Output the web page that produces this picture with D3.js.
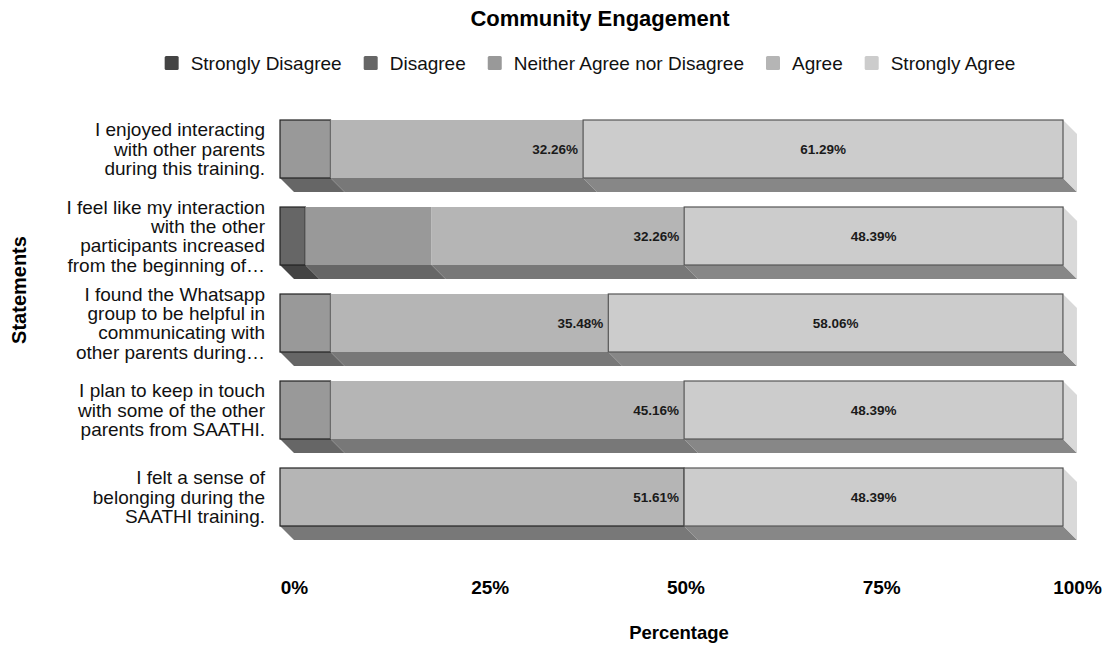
<!DOCTYPE html>
<html>
<head>
<meta charset="utf-8">
<script src="https://cdn.jsdelivr.net/npm/d3@7"></script>
<style>
  html, body { margin: 0; padding: 0; background: #fff; }
  svg { display: block; font-family: "Liberation Sans", Arial, sans-serif; }
</style>
</head>
<body>
<svg id="chart" width="1108" height="648"></svg>
<script>
// Survey statements (y categories), each split into multiple text lines
const statements = [
  ["I enjoyed interacting", "with other parents", "during this training."],
  ["I feel like my interaction", "with the other", "participants increased", "from the beginning of\u2026"],
  ["I found the Whatsapp", "group to be helpful in", "communicating with", "other parents during\u2026"],
  ["I plan to keep in touch", "with some of the other", "parents from SAATHI."],
  ["I felt a sense of", "belonging during the", "SAATHI training."]
];
const statementIds = ["s1", "s2", "s3", "s4", "s5"];

// Response levels and their fills
const levels = ["Strongly Disagree", "Disagree", "Neither Agree nor Disagree", "Agree", "Strongly Agree"];
const levelColors = ["#444444", "#666666", "#999999", "#b5b5b5", "#cccccc"];

// Percent of respondents per level, one array per level, in statement order
const stronglyDisagree = [0, 0, 0, 0, 0];
const disagree         = [0, 3.23, 0, 0, 0];
const neither          = [6.45, 16.13, 6.45, 6.45, 0];
const agree            = [32.26, 32.26, 35.48, 45.16, 51.61];
const stronglyAgree    = [61.29, 48.39, 58.06, 48.39, 48.39];

// Tick values on the percentage axis
const xTicks = [0, 25, 50, 75, 100];

const seriesValues = [stronglyDisagree, disagree, neither, agree, stronglyAgree];
const rows = statementIds.map((id, i) => {
  const r = { id };
  levels.forEach((lv, k) => { r[lv] = seriesValues[k][i]; });
  return r;
});

const svg = d3.select("#chart");
const depth = 14;

const x = d3.scaleLinear().domain([0, 100]).range([280, 1063]);
const y = d3.scaleBand().domain(statementIds).range([105.5, 540.5])
  .paddingInner(1 / 3).paddingOuter(1 / 6);

const stack = d3.stack().keys(levels);
const stacked = stack(rows);
const colorOf = d3.scaleOrdinal().domain(levels).range(levelColors);

// Flatten into segment records
const segments = [];
stacked.forEach(layer => {
  layer.forEach((d, i) => {
    if (d[1] - d[0] > 0) {
      segments.push({ key: layer.key, id: statementIds[i], x0: d[0], x1: d[1], v: d[1] - d[0] });
    }
  });
});
// first non-empty segment in each row
const firstKey = {};
statementIds.forEach(id => {
  const s = segments.filter(g => g.id === id).sort((a, b) => a.x0 - b.x0)[0];
  firstKey[id] = s.key;
});

const plot = svg.append("g");

// Bottom faces of the extruded bars
plot.selectAll("path.bottom").data(segments).join("path")
  .attr("class", "bottom")
  .attr("d", d => {
    const yb = y(d.id) + y.bandwidth();
    const a = x(d.x0), b = x(d.x1);
    return `M${a},${yb}L${b},${yb}L${b + depth},${yb + depth}L${a + depth},${yb + depth}Z`;
  })
  .attr("fill", d => d3.color(colorOf(d.key)).darker(1.15));

// Right-hand end faces
const lastSegs = statementIds.map(id => segments.filter(g => g.id === id).sort((a, b) => b.x1 - a.x1)[0]);
plot.selectAll("path.side").data(lastSegs).join("path")
  .attr("class", "side")
  .attr("d", d => {
    const yt = y(d.id), yb = yt + y.bandwidth();
    const b = x(d.x1);
    return `M${b},${yt}L${b + depth},${yt + depth}L${b + depth},${yb + depth}L${b},${yb}Z`;
  })
  .attr("fill", "#d9d9d9");

// Front faces
plot.selectAll("rect.front").data(segments).join("rect")
  .attr("class", "front")
  .attr("x", d => x(d.x0))
  .attr("y", d => y(d.id))
  .attr("width", d => x(d.x1) - x(d.x0))
  .attr("height", y.bandwidth())
  .attr("fill", d => colorOf(d.key))
  .attr("stroke", d => d.key === "Strongly Agree" ? "#555" : (firstKey[d.id] === d.key ? "#222" : "none"))
  .attr("stroke-width", 1.2);

// Value labels for the agree-side segments
plot.selectAll("text.val").data(segments.filter(d => d.key === "Agree" || d.key === "Strongly Agree")).join("text")
  .attr("class", "val")
  .attr("x", d => d.key === "Agree" ? x(d.x1) - 5 : (x(d.x0) + x(d.x1)) / 2)
  .attr("y", d => y(d.id) + y.bandwidth() / 2)
  .attr("dy", "0.35em")
  .attr("text-anchor", d => d.key === "Agree" ? "end" : "middle")
  .attr("font-size", 13.5)
  .attr("font-weight", "bold")
  .attr("fill", "#1a1a1a")
  .text(d => d.v.toFixed(2) + "%");

// Category labels
const lineH = 19.3;
const catG = svg.append("g");
statementIds.forEach((id, i) => {
  const lines = statements[i];
  const cy = y(id) + y.bandwidth() / 2;
  const t = catG.append("text")
    .attr("text-anchor", "end")
    .attr("font-size", 19)
    .attr("fill", "#111");
  lines.forEach((ln, j) => {
    t.append("tspan")
      .attr("x", 265)
      .attr("y", cy + (j - (lines.length - 1) / 2) * lineH)
      .attr("dy", "0.35em")
      .text(ln);
  });
});

// Percentage axis
const xAxis = d3.axisBottom(x).tickValues(xTicks).tickSize(0).tickFormat(d => d + "%");
const axG = svg.append("g").attr("transform", `translate(${depth},577)`).call(xAxis);
axG.select(".domain").remove();
axG.selectAll("text")
  .attr("font-family", "Liberation Sans, Arial, sans-serif")
  .attr("font-size", 19)
  .attr("font-weight", "bold")
  .attr("fill", "#000");

// Titles
svg.append("text").attr("x", 600).attr("y", 18).attr("dy", "0.35em")
  .attr("text-anchor", "middle").attr("font-size", 22).attr("font-weight", "bold")
  .text("Community Engagement");
svg.append("text").attr("x", 679).attr("y", 633).attr("dy", "0.35em")
  .attr("text-anchor", "middle").attr("font-size", 18.5).attr("font-weight", "bold")
  .text("Percentage");
svg.append("text")
  .attr("transform", "translate(19,290) rotate(-90)")
  .attr("dy", "0.35em")
  .attr("text-anchor", "middle").attr("font-size", 20).attr("font-weight", "bold")
  .text("Statements");

// Legend
const legG = svg.append("g");
const items = legG.selectAll("g").data(levels).join("g");
items.append("rect").attr("width", 14).attr("height", 14).attr("y", -7).attr("rx", 1.5)
  .attr("fill", d => colorOf(d));
items.append("text").attr("x", 26).attr("dy", "0.35em").attr("font-size", 19).attr("fill", "#111").text(d => d);
let cx = 0;
const pos = [];
items.each(function () {
  pos.push(cx);
  cx += 26 + this.querySelector("text").getComputedTextLength() + 22;
});
const total = cx - 22;
const startX = 590 - total / 2;
items.attr("transform", (d, i) => `translate(${startX + pos[i]},63)`);
</script>
</body>
</html>
